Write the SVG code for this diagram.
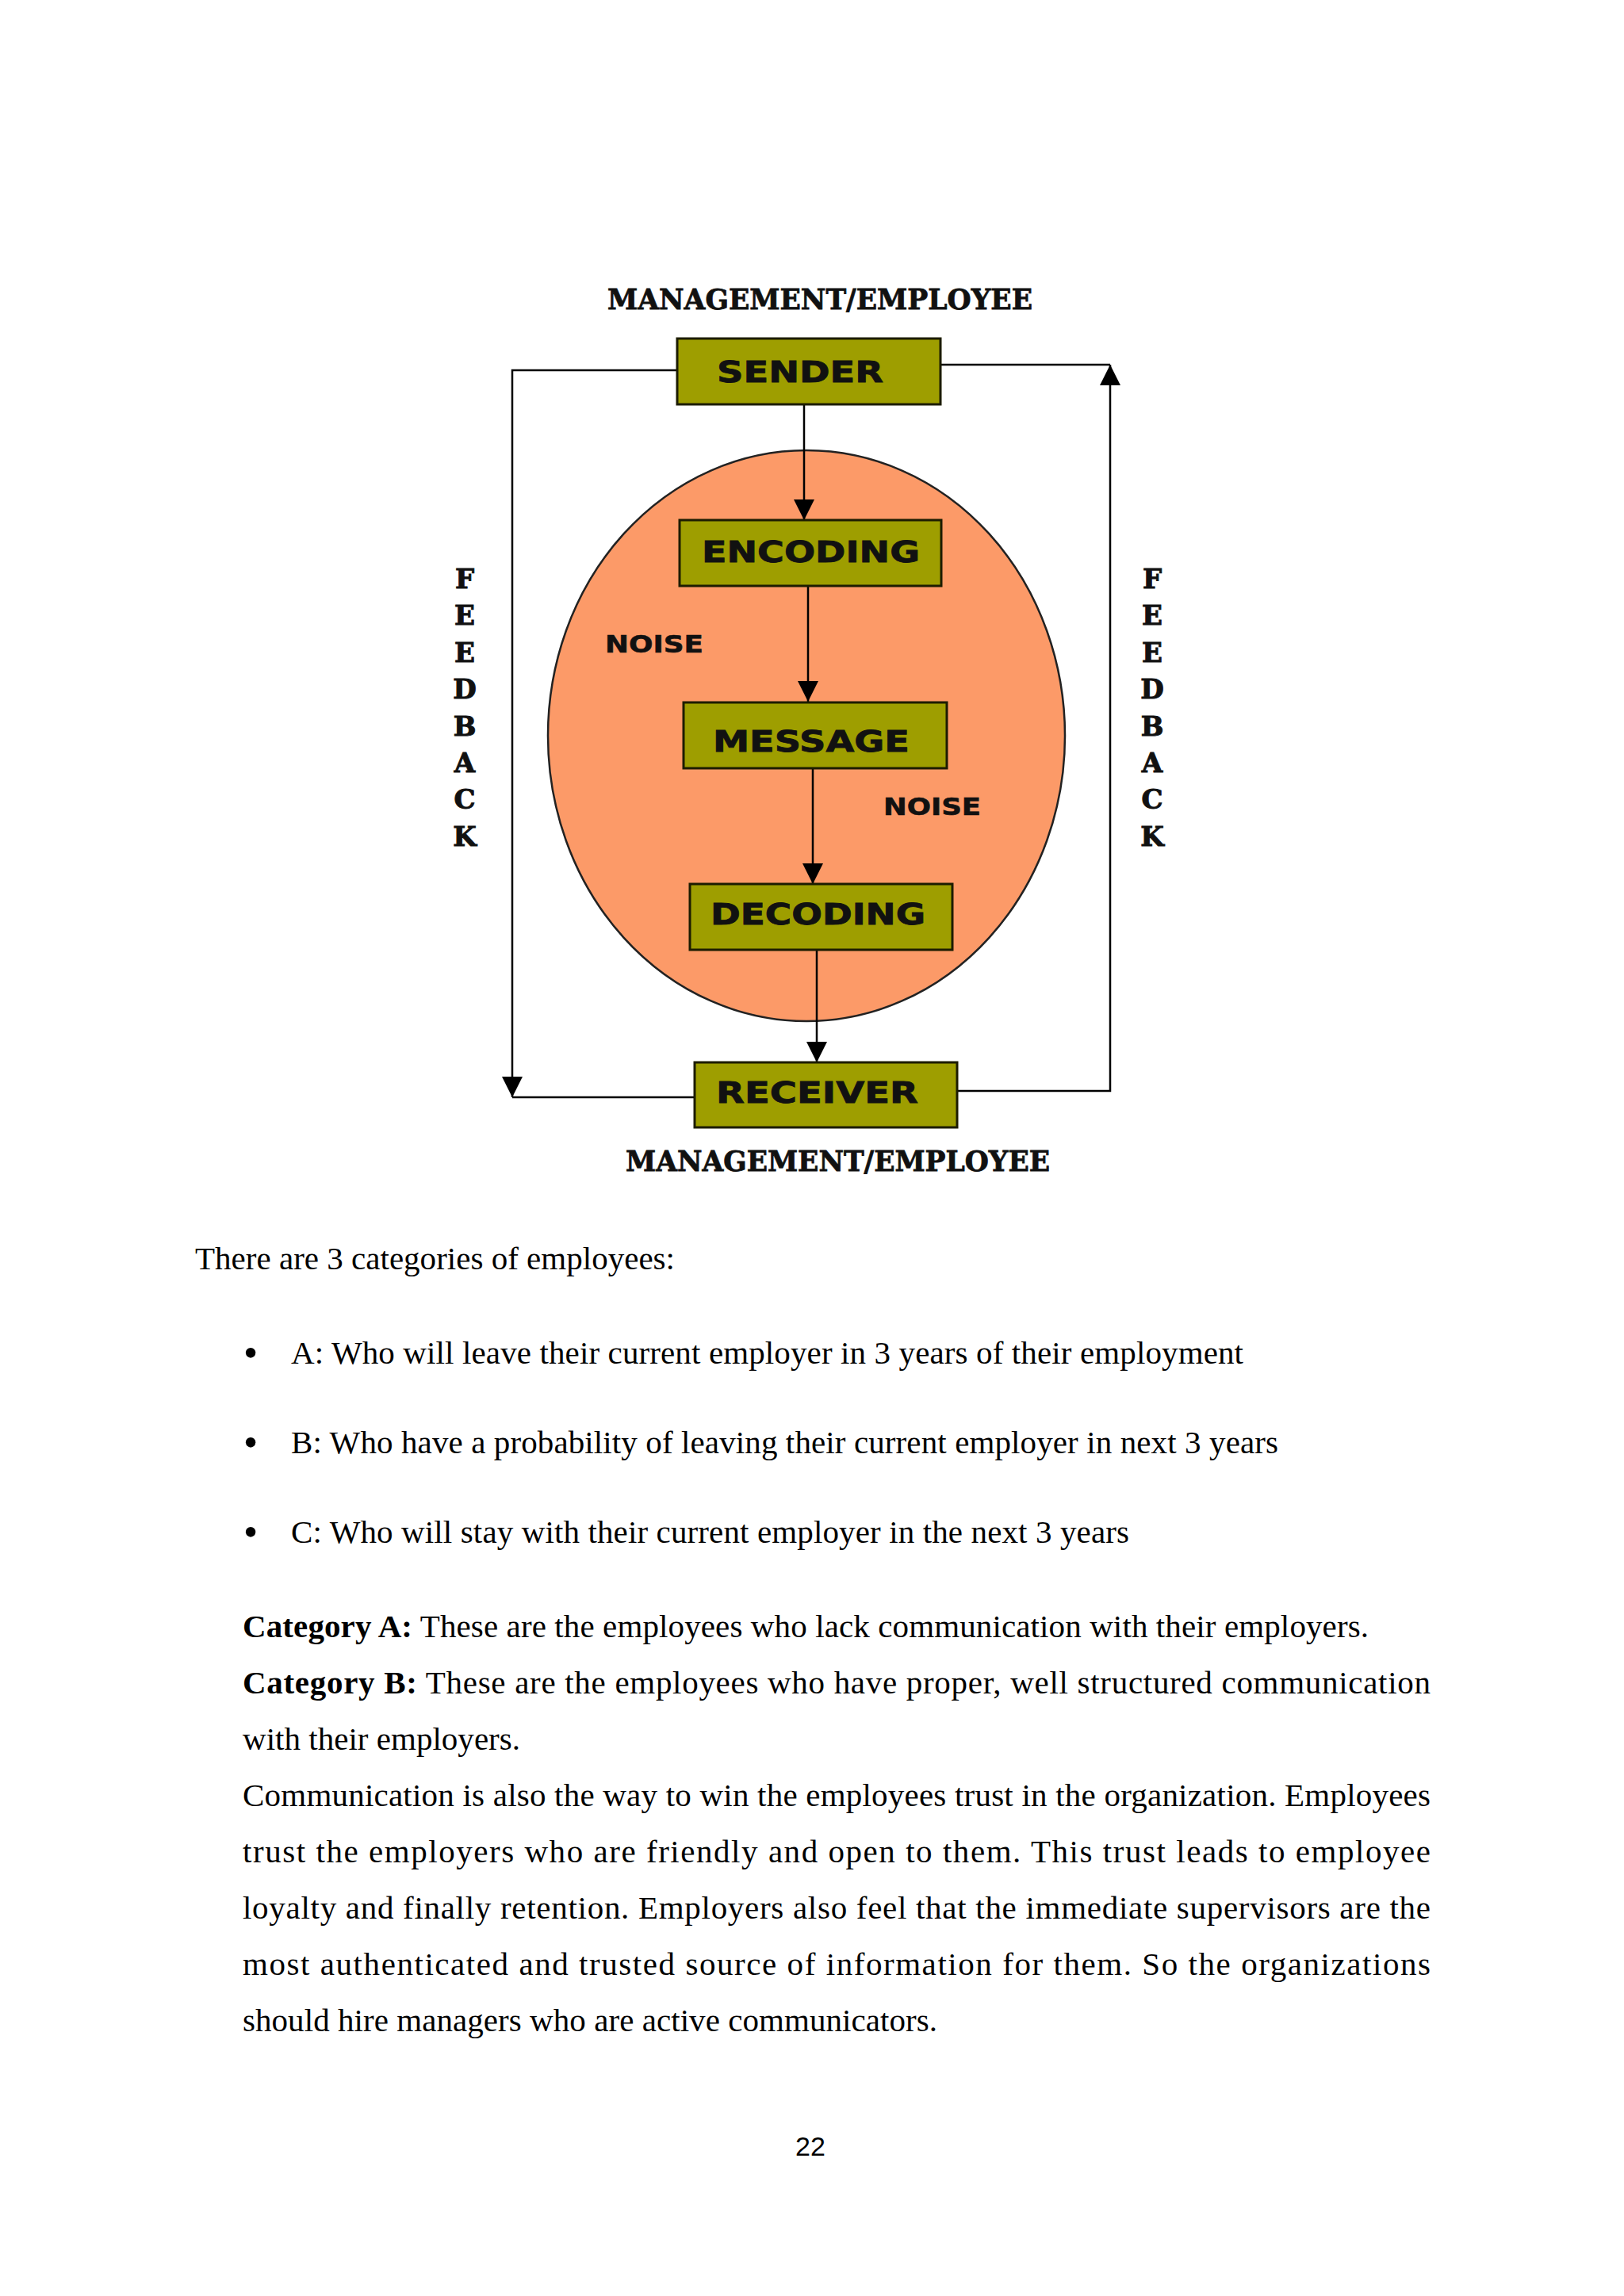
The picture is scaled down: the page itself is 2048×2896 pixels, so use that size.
<svg xmlns="http://www.w3.org/2000/svg" width="2048" height="2896" viewBox="0 0 2048 2896">
<style>
.box{fill:#9E9E00;stroke:#1c1c00;stroke-width:3}
.lbl{font-family:"DejaVu Sans",sans-serif;font-weight:bold;font-size:37px;fill:#111;stroke:#111;stroke-width:0.8}
.mgmt{font-family:"DejaVu Serif",serif;font-weight:bold;font-size:35px;fill:#111;stroke:#111;stroke-width:0.8}
.fb{font-family:"DejaVu Serif",serif;font-weight:bold;font-size:34px;fill:#111;stroke:#111;stroke-width:1;text-anchor:middle}
.noise{font-family:"DejaVu Sans",sans-serif;font-weight:bold;font-size:30px;fill:#111;stroke:#111;stroke-width:0.6}
.conn{stroke:#000;stroke-width:2.5;fill:none}
.body{font-family:"Liberation Serif","Times New Roman",Times,serif;font-size:41px;fill:#000}
.bul{font-family:"Liberation Serif","Times New Roman",Times,serif;font-size:52px;fill:#000}
.pg{font-family:"Liberation Sans",Arial,sans-serif;font-size:34px;fill:#000;text-anchor:middle}
</style>
<defs>
<marker id="ah" markerUnits="userSpaceOnUse" markerWidth="28" markerHeight="28" refX="26" refY="13" orient="auto" viewBox="0 0 28 28">
<path d="M0,0 L26,13 L0,26 Z" fill="#000"/>
</marker>
</defs>
<rect width="2048" height="2896" fill="#fff"/>

<g id="noise-area">
<ellipse cx="1017" cy="928" rx="326" ry="360" fill="#FC9A68" stroke="#222" stroke-width="2.5"/>
<text class="noise" x="763" y="823" textLength="124" lengthAdjust="spacingAndGlyphs">NOISE</text>
<text class="noise" x="1114" y="1028" textLength="123" lengthAdjust="spacingAndGlyphs">NOISE</text>
</g>

<g id="connectors">
<path class="conn" d="M1014,510 V656" marker-end="url(#ah)"/>
<path class="conn" d="M1019,739 V885" marker-end="url(#ah)"/>
<path class="conn" d="M1025,969 V1115" marker-end="url(#ah)"/>
<path class="conn" d="M1030,1198 V1340" marker-end="url(#ah)"/>
<path class="conn" d="M854,467 H646 V1384" marker-end="url(#ah)"/>
<path class="conn" d="M646,1384 H876"/>
<path class="conn" d="M1207,1376 H1400 V460" marker-end="url(#ah)"/>
<path class="conn" d="M1400,460 H1186"/>
</g>

<g id="sender">
<rect class="box" x="854" y="427" width="332" height="83"/>
<text class="lbl" x="904" y="482" textLength="210" lengthAdjust="spacingAndGlyphs">SENDER</text>
</g>
<g id="encoding">
<rect class="box" x="857" y="656" width="330" height="83"/>
<text class="lbl" x="885" y="709" textLength="275" lengthAdjust="spacingAndGlyphs">ENCODING</text>
</g>
<g id="message">
<rect class="box" x="862" y="886" width="332" height="83"/>
<text class="lbl" x="899" y="948" textLength="248" lengthAdjust="spacingAndGlyphs">MESSAGE</text>
</g>
<g id="decoding">
<rect class="box" x="870" y="1115" width="331" height="83"/>
<text class="lbl" x="896" y="1166" textLength="271" lengthAdjust="spacingAndGlyphs">DECODING</text>
</g>
<g id="receiver">
<rect class="box" x="876" y="1340" width="331" height="82"/>
<text class="lbl" x="903" y="1391" textLength="255" lengthAdjust="spacingAndGlyphs">RECEIVER</text>
</g>

<g id="labels">
<text class="mgmt" x="766" y="390" textLength="536" lengthAdjust="spacingAndGlyphs">MANAGEMENT/EMPLOYEE</text>
<text class="mgmt" x="789" y="1477" textLength="535" lengthAdjust="spacingAndGlyphs">MANAGEMENT/EMPLOYEE</text>
<g id="feedback-left">
<text class="fb" x="586" y="742">F</text>
<text class="fb" x="586" y="788">E</text>
<text class="fb" x="586" y="835">E</text>
<text class="fb" x="586" y="881">D</text>
<text class="fb" x="586" y="928">B</text>
<text class="fb" x="586" y="974">A</text>
<text class="fb" x="586" y="1020">C</text>
<text class="fb" x="586" y="1067">K</text>
</g>
<g id="feedback-right">
<text class="fb" x="1453" y="742">F</text>
<text class="fb" x="1453" y="788">E</text>
<text class="fb" x="1453" y="835">E</text>
<text class="fb" x="1453" y="881">D</text>
<text class="fb" x="1453" y="928">B</text>
<text class="fb" x="1453" y="974">A</text>
<text class="fb" x="1453" y="1020">C</text>
<text class="fb" x="1453" y="1067">K</text>
</g>
</g>

<g id="body-text">
<text class="body" x="246" y="1601" textLength="605" lengthAdjust="spacing">There are 3 categories of employees:</text>
<text class="bul" x="307" y="1724">•</text>
<text class="body" x="367" y="1720" textLength="1201" lengthAdjust="spacing">A: Who will leave their current employer in 3 years of their employment</text>
<text class="bul" x="307" y="1837">•</text>
<text class="body" x="367" y="1833" textLength="1245" lengthAdjust="spacing">B: Who have a probability of leaving their current employer in next 3 years</text>
<text class="bul" x="307" y="1950">•</text>
<text class="body" x="367" y="1946" textLength="1057" lengthAdjust="spacing">C: Who will stay with their current employer in the next 3 years</text>
<text class="body" x="306" y="2065" textLength="1420" lengthAdjust="spacing"><tspan font-weight="bold">Category A:</tspan> These are the employees who lack communication with their employers.</text>
<text class="body" x="306" y="2136" textLength="1498" lengthAdjust="spacing"><tspan font-weight="bold">Category B:</tspan> These are the employees who have proper, well structured communication</text>
<text class="body" x="306" y="2207" textLength="350" lengthAdjust="spacing">with their employers.</text>
<text class="body" x="306" y="2278" textLength="1498" lengthAdjust="spacing">Communication is also the way to win the employees trust in the organization. Employees</text>
<text class="body" x="306" y="2349" textLength="1498" lengthAdjust="spacing">trust the employers who are friendly and open to them. This trust leads to employee</text>
<text class="body" x="306" y="2420" textLength="1498" lengthAdjust="spacing">loyalty and finally retention. Employers also feel that the immediate supervisors are the</text>
<text class="body" x="306" y="2491" textLength="1498" lengthAdjust="spacing">most authenticated and trusted source of information for them. So the organizations</text>
<text class="body" x="306" y="2562" textLength="876" lengthAdjust="spacing">should hire managers who are active communicators.</text>
<text class="pg" x="1022" y="2719">22</text>
</g>
</svg>
